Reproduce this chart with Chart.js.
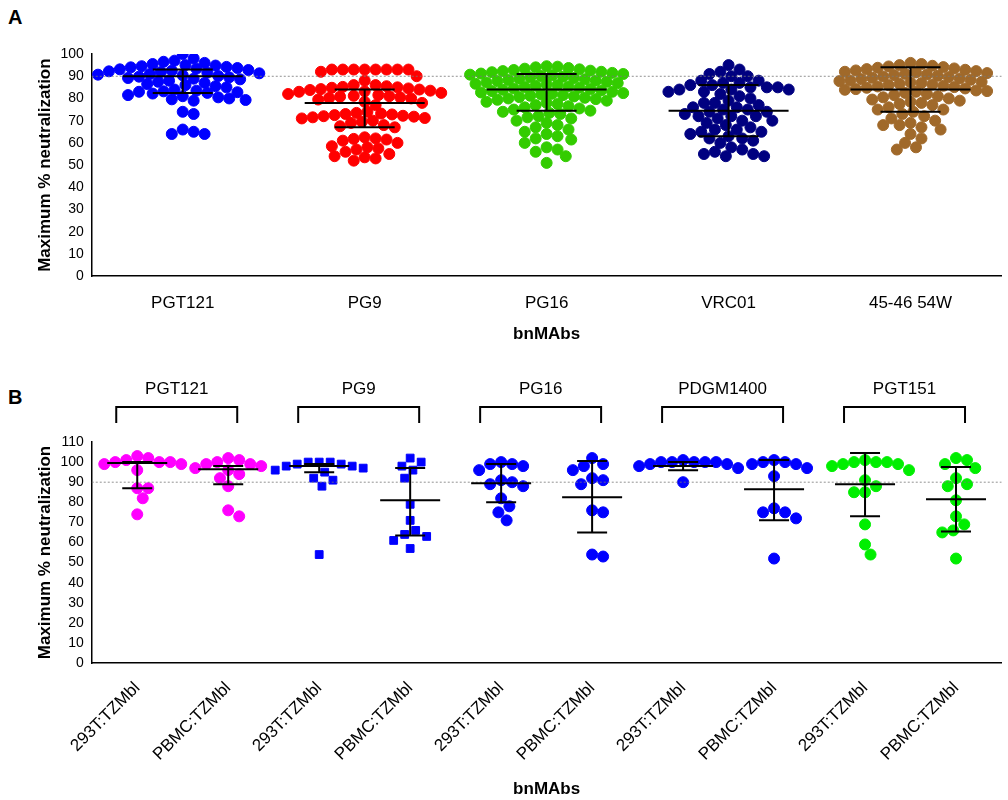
<!DOCTYPE html>
<html><head><meta charset="utf-8">
<script src="https://cdn.jsdelivr.net/npm/chart.js@4"></script>
<style>
body{margin:0;background:#fff;font-family:"Liberation Sans",Arial,sans-serif;}
.wrap{position:absolute;left:0;width:1008px;}
.lab{position:absolute;left:8px;font-weight:bold;font-size:20px;}
</style></head><body>
<div class="lab" style="top:6px">A</div>
<div class="lab" style="top:386px">B</div>
<div class="wrap" style="top:0;height:345px"><canvas id="chartA"></canvas></div>
<div class="wrap" style="top:376px;height:424px"><canvas id="chartB"></canvas></div>
<script>
// ---- panel A data ----
const catsA = ['PGT121', 'PG9', 'PG16', 'VRC01', '45-46 54W'];
const colorsA = ['#0000ff', '#ff0000', '#33cc00', '#000080', '#a0692a'];
const valsA = [
  [100,98,97,96.5,96,95.5,95,94.8,94.5,94.2,94,93.7,93.4,93.1,92.8,92.5,92.2,91.9,91.6,91.3,91,90.7,90.4,90.1,89.8,89.5,89.2,88.9,88.6,88,87.5,87,86.5,86,85.5,85,84,83.5,83.2,83,82.8,82.5,82.2,81.5,81,80.5,80,79.6,79.3,79,74,73,66,65,64,64],
  [93,93,93,93,93,93,93,93,92,90,88,86,86,85.5,85.2,85,84.8,84.5,84.2,84,83.8,83.5,83.2,83,82.5,82,81.5,81.2,81,80.8,80.5,80.2,80,79.5,78.5,78,77,74,73.5,73.2,73,72.8,72.5,72.2,72,71.8,71.5,71.2,71,70,69.5,69,68,67.5,67,62.5,62,61.8,61.5,61,60,58.5,58,57.5,57,56,55,54,53.5,53,52],
  [94.5,94.3,94,93.7,93.4,93.1,92.8,92.5,92.3,92,91.8,91.5,91.2,91,90.7,90.4,90.1,89.8,89.5,89.2,88.9,88.6,88.3,88,87.8,87.5,87.2,86.9,86.6,86.3,86,85.7,85.4,85.1,84.8,84.5,84.2,83.9,83.6,83.3,83,82.7,82.4,82.1,81.8,81.5,81.2,80.9,80.6,80.3,80,79.7,79.4,79,78.5,78,77.5,77,76.5,76,75.5,75,74.5,74,73.5,73,72,71.5,71,70,69,68,67,66,65,64,63,62,61.5,60,58,57,56,54,51],
  [95,93,92,91,90,90,88,88,87,87,86,86,85,85,85,84,84,84,83,83,82,81,80,79,78,78,77,76,76,75,75,74,74,73,72,72,72,71,70,70,69,68,67,66,66,65,65,64,63,62,62,61,60,58,57,56,55,55,54,54],
  [96,95.5,95,94.7,94.4,94.1,93.8,93.5,93.2,92.9,92.6,92.3,92,91.7,91.4,91.1,90.8,90.5,90.2,89.9,89.6,89.3,89,88.7,88.4,88.1,87.8,87.5,87.2,86.9,86.6,86.3,86,85.7,85.4,85.1,84.8,84.5,84.2,83.9,83.6,83.3,83,82.5,82,81.5,81,80.5,80,79.5,79,78.5,78,77.5,77,76,75,75,74,73,72,71,70,69,68,68,67,66,64,62,60,58,57]
];
const medA = [90, 78, 84, 74.5, 84];
const q1A = [82.5, 67, 74.5, 63, 74];
const q3A = [93, 84, 91, 86, 94];

// ---- panel B data ----
const groupsB = ['PGT121', 'PG9', 'PG16', 'PDGM1400', 'PGT151'];
const catsB = ['293T:TZMbl', 'PBMC:TZMbl', '293T:TZMbl', 'PBMC:TZMbl', '293T:TZMbl', 'PBMC:TZMbl', '293T:TZMbl', 'PBMC:TZMbl', '293T:TZMbl', 'PBMC:TZMbl'];
const colorsB = ['#ff00ff', '#ff00ff', '#0000ff', '#0000ff', '#0000ff', '#0000ff', '#0000ff', '#0000ff', '#00ee00', '#00ee00'];
const shapesB = ['circle', 'circle', 'rect', 'rect', 'circle', 'circle', 'circle', 'circle', 'circle', 'circle'];
const valsB = [
  [103,102,101,100,100,100,99,99,96,87,87,82,74],
  [102,101,100,99,99,98,97,96,94,92,88,76,73],
  [100,100,100,99,99,98,98,97,96,95,92,91,88,54],
  [102,100,98,96,92,79,71,66,64,63,61,57],
  [100,99,99,98,96,91,90,89,88,82,78,75,71],
  [102,99,98,96,92,91,89,76,75,54,53],
  [101,100,100,100,100,100,99,99,98,97,90],
  [101,100,100,99,99,97,93,77,75,75,72,52],
  [101,100,100,100,99,99,98,96,91,88,85,85,69,59,54],
  [102,101,99,97,92,89,88,81,73,69,66,65,52]
];
const medB = [99.5, 96.5, 98, 81, 89.5, 82.5, 98, 86.5, 89, 81.5];
const q1B = [87, 89, 95, 63.5, 80, 65, 96, 71, 73, 65.5];
const q3B = [100, 98, 99, 97, 99, 100.5, 100, 101, 104.5, 97.5];

const FONT = '"Liberation Sans", Arial';

// simple beeswarm: offsets in category units from pixel scale guesses
function swarm(vals, ci, pxX, pxY, r, gap) {
  const placed = [];
  const out = [];
  vals.slice().sort((a, b) => b - a).forEach(v => {
    let k = 0, off = 0;
    while (true) {
      const cand = k === 0 ? [0] : [k, -k];
      let ok = null;
      for (const c of cand) {
        const x = c * r * 0.5;
        if (placed.every(p => Math.hypot(p.x - x, (p.v - v) * pxY) >= gap * r)) { ok = x; break; }
      }
      if (ok !== null) { off = ok; break; }
      k++;
    }
    placed.push({ x: off, v: v });
    out.push({ x: ci + off / pxX, y: v });
  });
  return out;
}

const errBars = {
  id: 'errBars',
  afterDatasetsDraw(chart, args, o) {
    const { ctx, scales: { x, y } } = chart;
    ctx.save();
    // dotted line at 90
    ctx.setLineDash([2, 2]);
    ctx.lineWidth = 0.8;
    ctx.strokeStyle = '#777';
    ctx.beginPath();
    ctx.moveTo(x.left, y.getPixelForValue(90));
    ctx.lineTo(x.right, y.getPixelForValue(90));
    ctx.stroke();
    ctx.setLineDash([]);
    ctx.strokeStyle = '#000';
    ctx.lineWidth = 2;
    o.med.forEach((m, i) => {
      const cx = x.getPixelForValue(i);
      const ym = y.getPixelForValue(m), y1 = y.getPixelForValue(o.q1[i]), y3 = y.getPixelForValue(o.q3[i]);
      ctx.beginPath();
      ctx.moveTo(cx - o.wm, ym); ctx.lineTo(cx + o.wm, ym);
      ctx.moveTo(cx - o.wq, y1); ctx.lineTo(cx + o.wq, y1);
      ctx.moveTo(cx - o.wq, y3); ctx.lineTo(cx + o.wq, y3);
      ctx.moveTo(cx, y1); ctx.lineTo(cx, y3);
      ctx.stroke();
    });
    if (o.groups) {
      ctx.font = '17px ' + FONT;
      ctx.fillStyle = '#000';
      ctx.textAlign = 'center';
      o.groups.forEach((g, i) => {
        const a = x.getPixelForValue(2 * i) - 21, b = x.getPixelForValue(2 * i + 1) + 9;
        const top = 31, bot = 47;
        ctx.beginPath();
        ctx.moveTo(a, bot); ctx.lineTo(a, top); ctx.lineTo(b, top); ctx.lineTo(b, bot);
        ctx.stroke();
        ctx.fillText(g, (a + b) / 2, 18);
      });
    }
    ctx.restore();
  }
};

function makeChart(id, cats, vals, colors, shapes, ymax, pxX, pxY, stats, rot, padTop, gap, tpad, titlePad) {
  const datasets = vals.map((v, i) => ({
    data: swarm(v, i, pxX, pxY, 5.5, gap),
    backgroundColor: colors[i], borderColor: colors[i],
    pointStyle: shapes ? shapes[i] : 'circle', pointRadius: 5.5, pointHoverRadius: 5.5
  }));
  return new Chart(document.getElementById(id), {
    type: 'scatter',
    data: { datasets },
    options: {
      responsive: true, maintainAspectRatio: false, animation: false,
      layout: { padding: { top: padTop, right: 2, left: 33 } },
      plugins: { legend: { display: false }, tooltip: { enabled: false }, errBars: stats },
      scales: {
        x: {
          type: 'linear', min: -0.5, max: cats.length - 0.5,
          afterBuildTicks: ax => { ax.ticks = cats.map((c, i) => ({ value: i })); },
          grid: { display: false, drawTicks: true, tickLength: 6, tickColor: '#000' },
          border: { color: '#000', width: 1.5 },
          ticks: { color: '#000', padding: tpad, font: { size: 17, family: FONT }, maxRotation: rot, minRotation: rot,
            callback: (v) => cats[v] },
          title: { display: true, text: 'bnMAbs', color: '#000', padding: { top: titlePad, bottom: 0 }, font: { size: 17, weight: 'bold', family: FONT } }
        },
        y: {
          min: 0, max: ymax,
          afterBuildTicks: ax => { const t = []; for (let v = 0; v <= ymax; v += 10) t.push({ value: v }); ax.ticks = t; },
          ticks: { autoSkip: false, color: '#000', font: { size: 14, family: FONT } },
          grid: { display: false, drawTicks: true, tickLength: 5, tickColor: '#000' },
          border: { color: '#000', width: 1.5 },
          title: { display: true, text: 'Maximum % neutralization', color: '#000', padding: 2, font: { size: 17, weight: 'bold', family: FONT } }
        }
      }
    },
    plugins: [errBars]
  });
}

makeChart('chartA', catsA, valsA, colorsA, null, 100, 183, 2.18,
  { med: medA, q1: q1A, q3: q3A, wm: 60, wq: 30 }, 0, 54, 1.8, 11, 0);
makeChart('chartB', catsB, valsB, colorsB, shapesB, 110, 91, 2.0,
  { med: medB, q1: q1B, q3: q3B, wm: 30, wq: 15, groups: groupsB }, 45, 66, 1.9, 9, 6);
</script>
</body></html>
